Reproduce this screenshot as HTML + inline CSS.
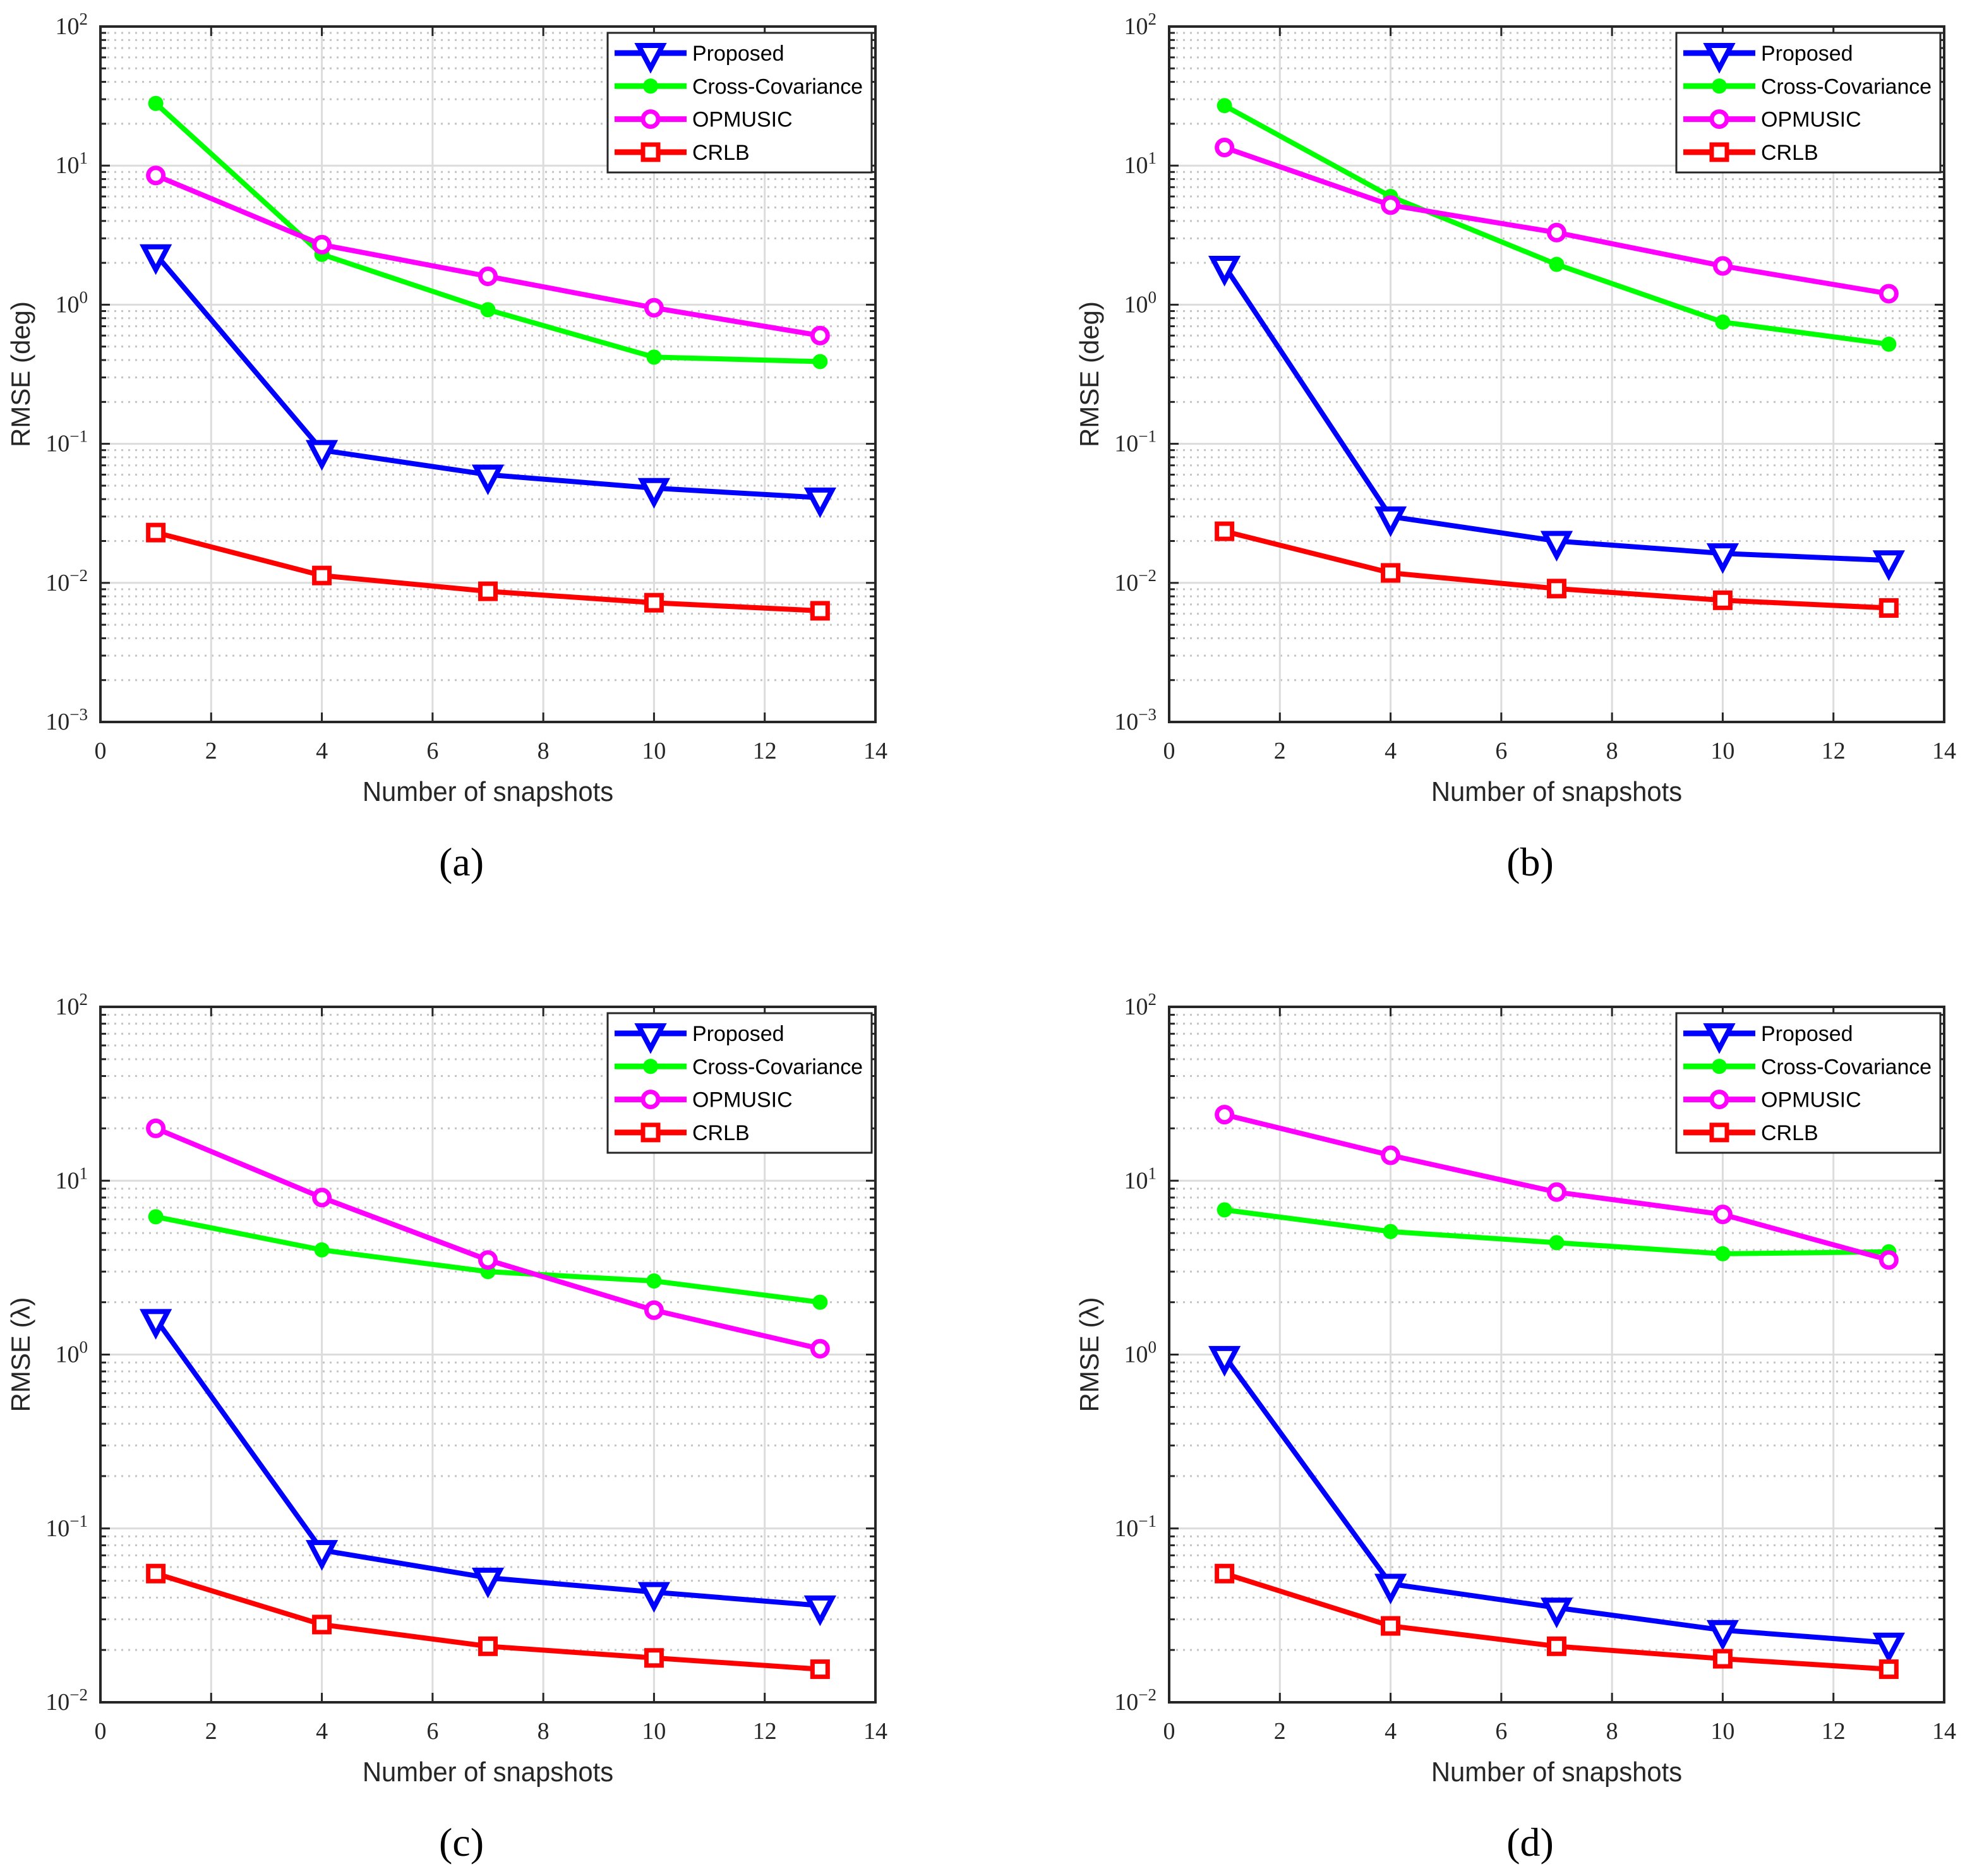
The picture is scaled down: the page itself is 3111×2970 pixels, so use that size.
<!DOCTYPE html>
<html><head><meta charset="utf-8"><style>body{margin:0;background:#fff}svg{display:block}</style></head>
<body>
<svg id="fig" xmlns="http://www.w3.org/2000/svg" width="3111" height="2970" viewBox="0 0 3111 2970"></svg>
<script>
const xTicks = [0,2,4,6,8,10,12,14];
const snapshots = [1,4,7,10,13];
const seriesNames = ["Proposed","Cross-Covariance","OPMUSIC","CRLB"];
const panelA_proposed = [2.3,0.09,0.06,0.048,0.041];
const panelA_cross = [28,2.3,0.92,0.42,0.39];
const panelA_opmusic = [8.5,2.7,1.6,0.95,0.6];
const panelA_crlb = [0.023,0.0113,0.0087,0.0072,0.0063];
const panelB_proposed = [1.9,0.030,0.020,0.0163,0.0145];
const panelB_cross = [27,6.0,1.95,0.75,0.52];
const panelB_opmusic = [13.5,5.2,3.3,1.9,1.2];
const panelB_crlb = [0.0235,0.0118,0.0091,0.0075,0.0066];
const panelC_proposed = [1.6,0.075,0.052,0.043,0.036];
const panelC_cross = [6.2,4.0,3.0,2.65,2.0];
const panelC_opmusic = [20,8.0,3.5,1.8,1.08];
const panelC_crlb = [0.055,0.028,0.021,0.018,0.0155];
const panelD_proposed = [0.98,0.048,0.035,0.026,0.022];
const panelD_cross = [6.8,5.1,4.4,3.8,3.9];
const panelD_opmusic = [24,14,8.6,6.4,3.5];
const panelD_crlb = [0.055,0.0275,0.021,0.0178,0.0155];
const panelA_yExp = [-3,-2,-1,0,1,2];
const panelC_yExp = [-2,-1,0,1,2];

const NS="http://www.w3.org/2000/svg";
const svg=document.getElementById('fig');
function mk(tag,attrs,parent){const e=document.createElementNS(NS,tag);for(const k in attrs)e.setAttribute(k,attrs[k]);(parent||svg).appendChild(e);return e;}
const colors=["#0000ff","#00ff00","#ff00ff","#ff0000"];
const W=1227,H=1101;

function panel(id,ox,oy,yExp,series,ylab,cap){
  const g=mk('g',{});
  
  
  const lo=yExp[0],hi=yExp[yExp.length-1];
  const xs=v=>ox+v/14*W;
  const ys=v=>oy+(hi-Math.log10(v))/(hi-lo)*H;
  for(let e=lo;e<hi;e++){for(let m=2;m<=9;m++){const y=ys(m*Math.pow(10,e));
    const l=mk('line',{x1:ox,x2:ox+W,y1:y,y2:y,stroke:'#c4c4c4','stroke-width':3,'stroke-dasharray':'3 8'},g);
    
    mk('line',{x1:ox,x2:ox+9,y1:y,y2:y,stroke:'#262626','stroke-width':3},g);
    mk('line',{x1:ox+W-9,x2:ox+W,y1:y,y2:y,stroke:'#262626','stroke-width':3},g);}}
  xTicks.forEach(t=>{const x=xs(t);
    const l=mk('line',{x1:x,x2:x,y1:oy,y2:oy+H,stroke:'#dcdcdc','stroke-width':3},g);
    
    mk('line',{x1:x,x2:x,y1:oy+H-15,y2:oy+H,stroke:'#262626','stroke-width':3},g);
    mk('line',{x1:x,x2:x,y1:oy,y2:oy+15,stroke:'#262626','stroke-width':3},g);
    const tx=mk('text',{x:x,y:oy+H+58,'text-anchor':'middle','font-family':'Liberation Serif, serif','font-size':38,fill:'#262626'},g);
    tx.textContent=t;});
  yExp.forEach(e=>{const y=ys(Math.pow(10,e));
    const l=mk('line',{x1:ox,x2:ox+W,y1:y,y2:y,stroke:'#dcdcdc','stroke-width':3},g);
    
    mk('line',{x1:ox,x2:ox+15,y1:y,y2:y,stroke:'#262626','stroke-width':3},g);
    mk('line',{x1:ox+W-15,x2:ox+W,y1:y,y2:y,stroke:'#262626','stroke-width':3},g);
    const tx=mk('text',{x:ox-20,y:y+12,'text-anchor':'end','font-family':'Liberation Serif, serif','font-size':38,fill:'#262626'},g);
    
    const s1=mk('tspan',{},tx);s1.textContent='10';
    const s2=mk('tspan',{dy:-15,'font-size':27},tx);s2.textContent=(e<0?'\u2212':'')+Math.abs(e);});
  series.forEach((vals,i)=>{const c=colors[i];
    const pts=vals.map((v,j)=>xs(snapshots[j])+','+ys(v)).join(' ');
    const pl=mk('polyline',{points:pts,fill:'none',stroke:c,'stroke-width':8,'stroke-linejoin':'round'},g);
    
    vals.forEach((v,j)=>{const x=xs(snapshots[j]),y=ys(v);marker(g,i,x,y);});});
  const bx=mk('rect',{x:ox,y:oy,width:W,height:H,fill:'none',stroke:'#262626','stroke-width':4},g);
  
  const lx=ox+803,ly=oy+10;
  const lg=mk('g',{},g);
  mk('rect',{x:lx,y:ly,width:418,height:221,fill:'#fff',stroke:'#262626','stroke-width':3},lg);
  seriesNames.forEach((n,i)=>{const y=ly+32+i*52.3;
    const e=mk('g',{},lg);
    mk('line',{x1:lx+11,x2:lx+125,y1:y,y2:y,stroke:colors[i],'stroke-width':9},e);
    marker(e,i,lx+68,y);
    const t=mk('text',{x:lx+134,y:y+12,'font-family':'Liberation Sans, sans-serif','font-size':34,fill:'#000',textLength:(n==='Cross-Covariance'?270:null)},e);
    if(n!=='Cross-Covariance')t.removeAttribute('textLength');
    t.textContent=n;});
  const cx=ox+W/2;
  const xl=mk('text',{x:cx,y:oy+H+125,'text-anchor':'middle','font-family':'Liberation Sans, sans-serif','font-size':44,fill:'#262626',transform:`translate(${cx},0) scale(0.95,1) translate(${-cx},0)`},g);
  xl.textContent='Number of snapshots';
  const yl=mk('text',{x:0,y:0,'text-anchor':'middle','font-family':'Liberation Sans, sans-serif','font-size':42,fill:'#262626',transform:`translate(${ox-112},${oy+H/2}) rotate(-90)`},g);
  yl.textContent=ylab;
  const cp=mk('text',{x:cx-42,y:oy+H+243,'text-anchor':'middle','font-family':'Liberation Serif, serif','font-size':64,fill:'#000'},g);
  cp.textContent=cap;
}
function marker(g,i,x,y){const c=colors[i];let m;
  if(i===0)m=mk('path',{d:`M${x-19},${y-12} L${x+19},${y-12} L${x},${y+24} Z`,fill:'#fff',stroke:c,'stroke-width':8,'stroke-linejoin':'miter'},g);
  else if(i===1)m=mk('circle',{cx:x,cy:y,r:12,fill:c},g);
  else if(i===2)m=mk('circle',{cx:x,cy:y,r:12,fill:'#fff',stroke:c,'stroke-width':7},g);
  else m=mk('rect',{x:x-12,y:y-12,width:24,height:24,fill:'#fff',stroke:c,'stroke-width':7},g);
  }

panel('a',159,42,panelA_yExp,[panelA_proposed,panelA_cross,panelA_opmusic,panelA_crlb],'RMSE (deg)','(a)');
panel('b',1851,42,panelA_yExp,[panelB_proposed,panelB_cross,panelB_opmusic,panelB_crlb],'RMSE (deg)','(b)');
panel('c',159,1594,panelC_yExp,[panelC_proposed,panelC_cross,panelC_opmusic,panelC_crlb],'RMSE (\u03bb)','(c)');
panel('d',1851,1594,panelC_yExp,[panelD_proposed,panelD_cross,panelD_opmusic,panelD_crlb],'RMSE (\u03bb)','(d)');
</script>
</body></html>
